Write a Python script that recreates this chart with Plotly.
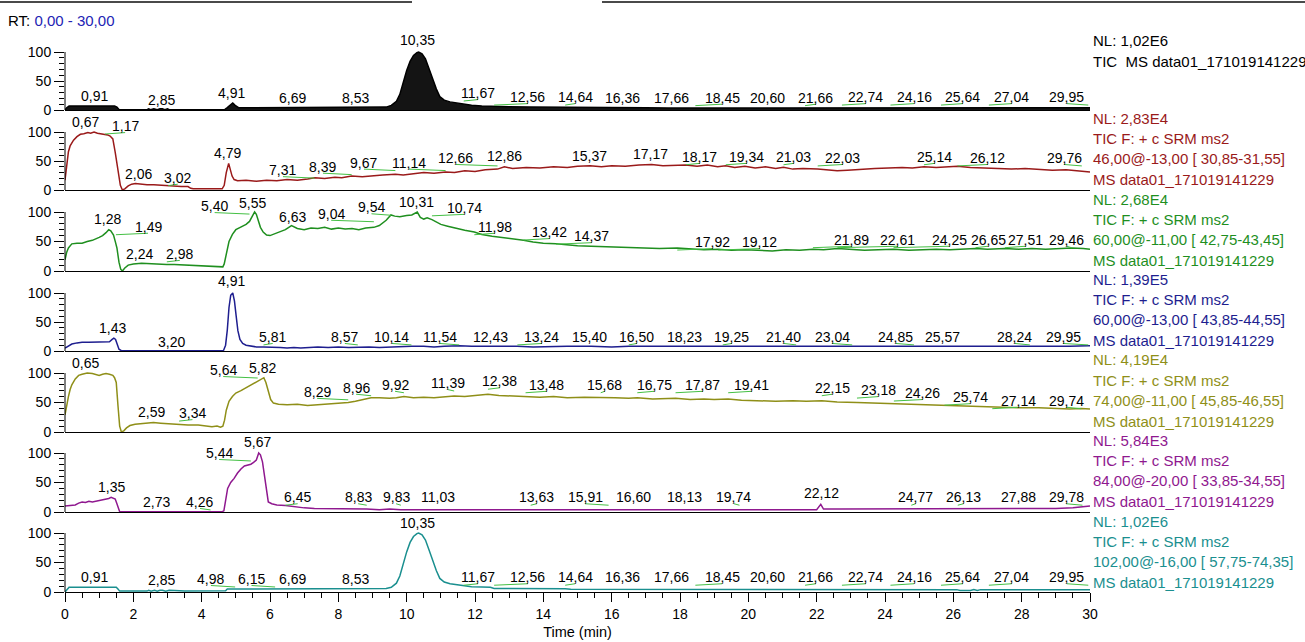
import plotly.graph_objects as go

# ---------------------------------------------------------------- data ----
# Panel 1: TIC of the whole run (relative abundance, %)
tic_time = [
    0.00, 0.05, 0.12, 0.30, 0.60, 0.91, 1.20, 1.45, 1.52, 1.58,
    1.65, 2.00, 2.40, 2.45, 2.50, 2.60, 2.70, 2.78, 2.85, 2.92,
    3.00, 3.05, 3.50, 4.00, 4.50, 4.68, 4.75, 4.82, 4.91, 4.98,
    5.08, 5.30, 5.80, 6.69, 7.30, 8.00, 8.53, 9.00, 9.40, 9.55,
    9.70, 9.80, 9.90, 10.00, 10.10, 10.20, 10.30, 10.35, 10.45, 10.55,
    10.65, 10.77, 10.87, 10.97, 11.10, 11.27, 11.50, 11.67, 11.90, 12.20,
    12.56, 13.00, 13.60, 14.20, 14.64, 15.20, 15.80, 16.36, 17.00, 17.66,
    18.45, 19.20, 20.60, 21.66, 22.74, 23.50, 24.16, 25.00, 25.64, 26.20,
    26.70, 27.04, 28.00, 29.00, 29.95, 30.00]
tic_int = [
    0, 4, 7, 7, 7, 7.5, 7, 7, 5, 1,
    0.5, 0.5, 0.5, 2, 0.5, 2, 0.5, 2, 2, 0.5,
    2, 0.5, 0.5, 0.5, 0.5, 1, 4, 8, 12, 8,
    4, 4, 4, 4.5, 4, 4, 4.5, 4, 5, 8,
    15, 27, 48, 68, 84, 94, 99, 100, 97, 88,
    72, 52, 36, 23, 17, 14, 12, 10, 8, 7,
    6, 5.5, 5, 5, 5, 4.5, 4, 4, 4, 3.5,
    3.5, 3.5, 3.5, 3.5, 3.5, 3.5, 3.5, 3.5, 3.5, 3.5,
    3.5, 3.5, 3.5, 3.5, 3.5, 4]

# Panel 2: SRM 46 -> 30.85-31.55
red_time = [
    0.00, 0.05, 0.10, 0.15, 0.25, 0.35, 0.45, 0.55, 0.67, 0.75,
    0.85, 0.95, 1.05, 1.17, 1.25, 1.32, 1.40, 1.47, 1.55, 1.62,
    1.68, 1.75, 1.85, 1.95, 2.06, 2.20, 2.40, 2.60, 2.80, 3.02,
    3.20, 3.40, 3.60, 3.68, 3.75, 4.00, 4.30, 4.60, 4.66, 4.72,
    4.79, 4.84, 4.89, 4.95, 5.05, 5.30, 5.60, 5.90, 6.20, 6.50,
    6.80, 7.10, 7.31, 7.60, 7.90, 8.10, 8.39, 8.70, 9.00, 9.30,
    9.67, 9.90, 10.20, 10.50, 10.80, 11.14, 11.40, 11.70, 12.00, 12.30,
    12.66, 12.86, 13.10, 13.50, 13.90, 14.30, 14.70, 15.00, 15.37, 15.70,
    16.00, 16.40, 16.80, 17.17, 17.50, 17.80, 18.17, 18.50, 18.80, 19.10,
    19.34, 19.60, 19.90, 20.20, 20.50, 20.80, 21.03, 21.30, 21.60, 22.03,
    22.30, 22.60, 22.90, 23.30, 23.70, 24.10, 24.50, 24.80, 25.14, 25.50,
    25.80, 26.12, 26.50, 26.90, 27.30, 27.70, 28.10, 28.50, 28.90, 29.30,
    29.76, 30.00]
red_int = [
    17, 45, 66, 76, 86, 92, 96, 97, 99, 98,
    100, 98, 97, 96, 95, 93, 88, 65, 34, 8,
    0, 2, 7, 10, 11, 10, 9, 9, 8, 8,
    7, 6, 6, 3, 2, 2, 2, 2, 8, 30,
    46, 35, 24, 18, 16, 17, 15, 17, 16, 18,
    17, 19, 21, 20, 22, 21, 24, 23, 25, 26,
    27, 26, 28, 30, 29, 31, 30, 33, 32, 35,
    36, 40, 37, 39, 38, 40, 39, 41, 42, 40,
    42, 41, 43, 44, 42, 43, 43, 41, 43, 40,
    42, 39, 41, 38, 40, 37, 39, 36, 37, 36,
    35, 33, 34, 36, 37, 38, 39, 38, 40, 39,
    40, 41, 39, 38, 37, 36, 37, 35, 34, 35,
    33, 31]

# Panel 3: SRM 60 -> 42.75-43.45
green_time = [
    0.00, 0.05, 0.10, 0.20, 0.35, 0.50, 0.65, 0.80, 1.00, 1.10,
    1.20, 1.28, 1.34, 1.42, 1.48, 1.52, 1.58, 1.63, 1.68, 1.75,
    1.85, 2.00, 2.24, 2.50, 2.75, 2.98, 3.20, 3.50, 3.80, 4.10,
    4.40, 4.62, 4.66, 4.72, 4.80, 4.90, 5.00, 5.10, 5.20, 5.30,
    5.40, 5.48, 5.55, 5.60, 5.66, 5.72, 5.80, 5.90, 6.00, 6.15,
    6.30, 6.45, 6.63, 6.80, 7.00, 7.20, 7.40, 7.60, 7.80, 8.00,
    8.20, 8.40, 8.60, 8.80, 9.04, 9.20, 9.40, 9.54, 9.65, 9.80,
    10.00, 10.15, 10.31, 10.40, 10.50, 10.60, 10.74, 10.85, 11.00, 11.20,
    11.40, 11.70, 11.98, 12.20, 12.50, 12.80, 13.10, 13.42, 13.70, 14.00,
    14.37, 14.70, 15.00, 15.40, 15.80, 16.20, 16.60, 17.00, 17.40, 17.92,
    18.30, 18.70, 19.12, 19.50, 19.90, 20.30, 20.70, 21.10, 21.50, 21.89,
    22.20, 22.61, 23.00, 23.40, 23.80, 24.25, 24.70, 25.10, 25.50, 25.90,
    26.30, 26.65, 27.00, 27.51, 27.90, 28.30, 28.70, 29.10, 29.46, 29.80,
    30.00]
green_int = [
    19, 32, 39, 46, 47, 47, 50, 52, 57, 60,
    65, 70, 68, 61, 48, 39, 15, 3, 0, 5,
    10, 12, 13, 12, 12, 11, 11, 10, 9, 9,
    8, 7, 12, 30, 50, 62, 70, 73, 76, 79,
    84, 92, 100, 96, 86, 74, 66, 61, 60, 63,
    66, 70, 77, 72, 70, 73, 72, 74, 71, 73,
    71, 72, 70, 73, 74, 77, 86, 95, 93, 92,
    94, 95, 100, 91, 88, 90, 87, 83, 79, 76,
    73, 69, 66, 62, 59, 57, 55, 52, 49, 47,
    46, 44, 43, 42, 41, 41, 40, 39, 38, 39,
    37, 36, 37, 35, 36, 35, 34, 36, 35, 37,
    36, 38, 36, 35, 36, 37, 35, 36, 37, 36,
    37, 38, 37, 38, 37, 38, 37, 38, 39, 38,
    37]

# Panel 4: SRM 60 -> 43.85-44.55
navy_time = [
    0.00, 0.10, 0.20, 0.35, 0.50, 0.70, 0.90, 1.10, 1.30, 1.38,
    1.43, 1.48, 1.53, 1.58, 1.65, 2.00, 2.50, 3.00, 3.20, 3.60,
    4.00, 4.40, 4.64, 4.70, 4.75, 4.80, 4.85, 4.91, 4.96, 5.01,
    5.06, 5.12, 5.20, 5.30, 5.45, 5.60, 5.81, 6.10, 6.30, 6.50,
    6.70, 6.90, 7.10, 7.40, 7.70, 8.00, 8.30, 8.57, 8.90, 9.20,
    9.50, 9.80, 10.14, 10.50, 10.80, 11.10, 11.54, 11.90, 12.20, 12.43,
    12.80, 13.24, 13.70, 14.20, 14.70, 15.40, 16.00, 16.50, 17.20, 17.80,
    18.23, 18.80, 19.25, 19.80, 20.40, 21.00, 21.40, 22.00, 22.50, 23.04,
    23.60, 24.20, 24.85, 25.20, 25.57, 26.10, 26.70, 27.30, 27.80, 28.24,
    28.80, 29.40, 29.95, 30.00]
navy_int = [
    5, 9, 12, 14, 15, 15, 15, 15, 16, 20,
    22, 20, 10, 3, 0.5, 0.5, 0.8, 0.5, 0.8, 0.5,
    0.5, 0.5, 1, 10, 36, 75, 96, 100, 86, 60,
    35, 20, 13, 10, 8, 7, 7, 7, 6, 5,
    6, 5, 6, 7, 6, 7, 6, 7, 7, 6,
    7, 7, 8, 8, 7, 8, 9, 8, 8, 9,
    8, 8, 7, 8, 8, 8, 7, 8, 8, 7,
    8, 8, 8, 7, 8, 8, 8, 7, 8, 8,
    8, 8, 8, 8, 8, 7, 8, 8, 8, 8,
    8, 8, 9, 9]

# Panel 5: SRM 74 -> 45.85-46.55
olive_time = [
    0.00, 0.05, 0.10, 0.15, 0.20, 0.30, 0.40, 0.50, 0.65, 0.80,
    0.90, 1.00, 1.10, 1.20, 1.30, 1.40, 1.45, 1.50, 1.55, 1.60,
    1.65, 1.72, 1.80, 1.90, 2.05, 2.30, 2.59, 2.80, 3.00, 3.34,
    3.60, 3.90, 4.10, 4.30, 4.45, 4.55, 4.62, 4.67, 4.72, 4.80,
    4.90, 5.00, 5.15, 5.30, 5.45, 5.64, 5.72, 5.82, 5.88, 5.95,
    6.02, 6.10, 6.25, 6.50, 6.80, 7.10, 7.38, 7.60, 7.90, 8.10,
    8.29, 8.50, 8.70, 8.96, 9.20, 9.50, 9.70, 9.92, 10.20, 10.50,
    10.80, 11.10, 11.39, 11.70, 12.00, 12.38, 12.70, 13.00, 13.48, 13.90,
    14.30, 14.70, 15.20, 15.68, 16.10, 16.50, 16.75, 17.20, 17.50, 17.87,
    18.30, 18.70, 19.00, 19.41, 19.80, 20.30, 20.80, 21.30, 21.70, 22.15,
    22.60, 23.18, 23.70, 24.26, 24.70, 25.20, 25.74, 26.20, 26.60, 27.14,
    27.60, 28.00, 28.50, 29.00, 29.40, 29.74, 30.00]
olive_int = [
    29, 48, 60, 72, 80, 90, 96, 98, 100, 99,
    97, 96, 98, 99, 98, 96, 92, 84, 45, 10,
    0, 2, 7, 11, 13, 14, 16, 15, 14, 13,
    12, 12, 11, 9, 10, 8, 10, 20, 37, 52,
    60, 66, 70, 75, 79, 86, 88, 92, 84, 70,
    55, 49, 47, 46, 47, 45, 46, 47, 48, 49,
    50, 52, 55, 58, 58, 57, 58, 60, 58, 59,
    58, 59, 61, 60, 62, 64, 62, 61, 60, 59,
    60, 58, 59, 59, 58, 57, 58, 56, 57, 57,
    55, 56, 55, 56, 54, 53, 52, 53, 52, 53,
    51, 50, 49, 49, 47, 46, 46, 45, 44, 43,
    42, 41, 41, 40, 39, 40, 39]

# Panel 6: SRM 84 -> 33.85-34.55
purple_time = [
    0.00, 0.10, 0.20, 0.30, 0.40, 0.50, 0.60, 0.70, 0.80, 0.90,
    1.00, 1.10, 1.20, 1.28, 1.35, 1.42, 1.47, 1.52, 1.56, 1.60,
    2.00, 2.73, 3.50, 4.26, 4.60, 4.65, 4.70, 4.76, 4.85, 4.95,
    5.05, 5.15, 5.25, 5.35, 5.44, 5.52, 5.60, 5.67, 5.72, 5.78,
    5.84, 5.90, 5.95, 6.05, 6.20, 6.45, 6.70, 7.00, 7.30, 7.70,
    8.00, 8.40, 8.83, 9.20, 9.50, 9.83, 10.20, 10.60, 11.03, 11.50,
    12.00, 12.60, 13.10, 13.63, 14.20, 14.80, 15.40, 15.91, 16.60, 17.20,
    17.70, 18.13, 18.70, 19.20, 19.74, 20.30, 20.90, 21.50, 22.00, 22.12,
    22.20, 22.70, 23.30, 23.90, 24.40, 24.77, 25.30, 25.70, 26.13, 26.60,
    27.20, 27.88, 28.40, 29.00, 29.50, 29.78, 30.00]
purple_int = [
    10, 11, 12, 12, 15, 17, 16, 18, 17, 18,
    19, 21, 22, 23, 25, 24, 22, 14, 5, 0.5,
    0.5, 0.5, 0.5, 0.5, 0.5, 2, 20, 40, 50, 57,
    66, 73, 78, 79, 81, 84, 88, 100, 97, 85,
    62, 35, 17, 14, 12, 11, 9, 7, 6, 6,
    5, 5, 5, 4, 5, 4, 4, 5, 4, 4,
    4, 4, 5, 4, 4, 4, 5, 4, 4, 4,
    4, 4, 5, 4, 4, 4, 5, 4, 4, 13,
    5, 5, 5, 5, 5, 6, 5, 6, 6, 6,
    5, 6, 6, 6, 7, 8, 10]

# Panel 7: SRM 102 -> 57.75-74.35
teal_time = [
    0.00, 0.05, 0.12, 0.30, 0.60, 0.91, 1.20, 1.50, 1.55, 1.60,
    1.70, 2.00, 2.40, 2.45, 2.52, 2.62, 2.70, 2.78, 2.85, 2.95,
    3.05, 3.50, 4.00, 4.50, 4.70, 4.75, 4.98, 5.50, 6.15, 6.69,
    7.30, 8.00, 8.53, 9.00, 9.40, 9.55, 9.70, 9.80, 9.90, 10.00,
    10.10, 10.20, 10.30, 10.35, 10.45, 10.55, 10.65, 10.77, 10.87, 10.97,
    11.10, 11.27, 11.50, 11.67, 11.90, 12.20, 12.45, 12.56, 13.00, 13.60,
    14.20, 14.64, 14.80, 15.20, 15.80, 16.36, 17.00, 17.66, 18.45, 19.20,
    20.60, 21.66, 22.74, 23.50, 24.16, 25.00, 25.64, 26.10, 26.20, 26.50,
    26.60, 26.70, 26.80, 27.04, 28.00, 29.00, 29.95, 30.00]
teal_int = [
    0, 4, 8, 8, 8, 8.5, 8, 8, 5, 1.5,
    1.5, 1.5, 1.5, 3, 1.5, 3, 1.5, 3, 3, 1.5,
    3, 1.5, 1.5, 1.5, 2, 5, 5, 5.5, 5.5, 5.5,
    5.5, 5.5, 5.5, 5.5, 6, 8, 15, 27, 48, 68,
    84, 94, 99, 100, 97, 88, 72, 52, 36, 23,
    17, 14, 12, 10, 9, 8.5, 8, 6, 6, 5.5,
    5.5, 5.5, 4.5, 4.5, 4, 4, 4, 4, 4, 4,
    4, 4, 4, 4, 4, 4, 4, 4, 2.5, 2.5,
    4, 2.5, 4, 4, 4, 4, 4, 4]

# Peak annotations: retention time, label centre (min), label height (%)
tic_peak_rt = [0.91, 2.85, 4.91, 6.69, 8.53, 10.35, 11.67, 12.56, 14.64, 16.36,
               17.66, 18.45, 20.60, 21.66, 22.74, 24.16, 25.64, 27.04, 29.95]
tic_label_x = [0.85, 2.81, 4.86, 6.65, 8.49, 10.33, 12.09, 13.55, 14.93, 16.33,
               17.76, 19.23, 20.57, 21.98, 23.44, 24.85, 26.28, 27.71, 29.32]
tic_label_y = [24, 17, 29, 21, 21, 121, 29, 22, 22, 21,
               21, 21, 21, 21, 22, 22, 22, 22, 22]

red_peak_rt = [0.67, 1.17, 2.06, 3.02, 4.79, 7.31, 8.39, 9.67, 11.14, 12.66,
               12.86, 15.37, 17.17, 18.17, 19.34, 21.03, 22.03, 25.14, 26.12, 29.76]
red_label_x = [0.61, 1.76, 2.14, 3.30, 4.77, 6.38, 7.55, 8.75, 10.07, 11.44,
               12.85, 15.36, 17.15, 18.58, 19.96, 21.33, 22.77, 25.46, 27.01, 29.24]
red_label_y = [117, 110, 28, 21, 64, 34, 40, 47, 47, 55,
               59, 59, 62, 57, 57, 57, 55, 57, 55, 55]

green_peak_rt = [1.28, 1.49, 2.24, 2.98, 5.40, 5.55, 6.63, 9.04, 9.54, 10.31,
                 10.74, 11.98, 13.42, 14.37, 17.92, 19.12, 21.89, 22.61, 24.25, 26.65,
                 27.51, 29.46]
green_label_x = [1.23, 2.43, 2.19, 3.36, 4.38, 5.49, 6.67, 7.79, 8.97, 10.28,
                 11.68, 12.58, 14.19, 15.42, 18.96, 20.34, 23.03, 24.38, 25.90, 27.02,
                 28.12, 29.32]
green_label_y = [88, 75, 29, 29, 110, 115, 92, 97, 108, 117,
                 107, 75, 66, 59, 49, 49, 53, 53, 53, 53,
                 53, 53]

navy_peak_rt = [1.43, 3.20, 4.91, 5.81, 8.57, 10.14, 11.54, 12.43, 13.24, 15.40,
                16.50, 18.23, 19.25, 21.40, 23.04, 24.85, 25.57, 28.24, 29.95]
navy_label_x = [1.38, 3.13, 4.86, 6.08, 8.19, 9.57, 10.97, 12.44, 13.96, 15.36,
                16.74, 18.14, 19.52, 21.04, 22.45, 24.32, 25.67, 27.80, 29.21]
navy_label_y = [40, 16, 121, 24, 24, 24, 24, 24, 24, 24,
                24, 24, 24, 24, 24, 24, 24, 24, 24]

olive_peak_rt = [0.65, 2.59, 3.34, 5.64, 5.82, 8.29, 8.96, 9.92, 11.39, 12.38,
                 13.48, 15.68, 16.75, 17.87, 19.41, 22.15, 23.18, 24.26, 25.74, 27.14,
                 29.74]
olive_label_x = [0.61, 2.54, 3.73, 4.63, 5.79, 7.38, 8.52, 9.66, 11.20, 12.73,
                 14.10, 15.80, 17.24, 18.67, 20.10, 22.45, 23.80, 25.10, 26.50, 27.90,
                 29.30]
olive_label_y = [117, 34, 32, 105, 108, 68, 75, 80, 83, 86,
                 80, 80, 80, 80, 80, 75, 71, 66, 59, 53,
                 53]

purple_peak_rt = [1.35, 2.73, 4.26, 5.44, 5.67, 6.45, 8.83, 9.83, 11.03, 13.63,
                  15.91, 16.60, 18.13, 19.74, 22.12, 24.77, 26.13, 27.88, 29.78]
purple_label_x = [1.35, 2.69, 3.95, 4.51, 5.64, 6.81, 8.58, 9.69, 10.92, 13.81,
                  15.22, 16.65, 18.14, 19.58, 22.15, 24.90, 26.30, 27.90, 29.30]
purple_label_y = [42, 17, 17, 100, 119, 25, 25, 25, 25, 25,
                  25, 25, 25, 25, 32, 25, 25, 25, 25]

teal_peak_rt = [0.91, 2.85, 4.98, 6.15, 6.69, 8.53, 10.35, 11.67, 12.56, 14.64,
                16.36, 17.66, 18.45, 20.60, 21.66, 22.74, 24.16, 25.64, 27.04, 29.95]
teal_label_x = [0.85, 2.81, 4.27, 5.46, 6.65, 8.49, 10.33, 12.09, 13.55, 14.93,
                16.33, 17.76, 19.23, 20.57, 21.98, 23.44, 24.85, 26.28, 27.71, 29.32]
teal_label_y = [25, 20, 22, 22, 22, 22, 117, 25, 25, 25,
                25, 25, 25, 25, 25, 25, 25, 25, 25, 25]

# Right-hand trace headers
nl_values = ["1,02E6", "2,83E4", "2,68E4", "1,39E5", "4,19E4", "5,84E3", "1,02E6"]
srm_filters = [None,
               "46,00@-13,00 [ 30,85-31,55]",
               "60,00@-11,00 [ 42,75-43,45]",
               "60,00@-13,00 [ 43,85-44,55]",
               "74,00@-11,00 [ 45,85-46,55]",
               "84,00@-20,00 [ 33,85-34,55]",
               "102,00@-16,00 [ 57,75-74,35]"]
raw_file = "data01_171019141229"

# ------------------------------------------------------------- layout ----
W, H = 1305, 642
FONT = "Liberation Sans, Arial, sans-serif"
X_LEFT, X_RIGHT = 65, 1090                       # plot columns (px)
Y_TOP = [52, 132, 212, 293, 373, 453, 533]       # rows of the 100 % tick
Y_ZERO = [110, 190, 271, 351, 432, 512, 592]     # rows of the 0 % baseline
Y_MAX = 130                                      # head-room for peak labels
TEXT_TOP = [41, 118, 199, 279, 360, 440, 521]    # first header line per panel
LINE_STEP = 20.4

colors = ["#000000", "#9a1a1a", "#1f8f1f", "#1e1e8f", "#8f8f18", "#8f188f", "#1a8f8f"]
leader_color = "#44c044"

panels = [
    (tic_time, tic_int, tic_peak_rt, tic_label_x, tic_label_y),
    (red_time, red_int, red_peak_rt, red_label_x, red_label_y),
    (green_time, green_int, green_peak_rt, green_label_x, green_label_y),
    (navy_time, navy_int, navy_peak_rt, navy_label_x, navy_label_y),
    (olive_time, olive_int, olive_peak_rt, olive_label_x, olive_label_y),
    (purple_time, purple_int, purple_peak_rt, purple_label_x, purple_label_y),
    (teal_time, teal_int, teal_peak_rt, teal_label_x, teal_label_y),
]


def fmt(v):
    return f"{v:.2f}".replace(".", ",")


fig = go.Figure()
layout = dict(
    width=W, height=H, margin=dict(l=0, r=0, t=0, b=0, autoexpand=False),
    paper_bgcolor="white", plot_bgcolor="white",
    showlegend=False, font=dict(family=FONT, size=14, color="black"),
)
annotations, shapes = [], []
x_dom = [X_LEFT / W, X_RIGHT / W]

for k, (t, v, rts, lxs, lys) in enumerate(panels):
    n = k + 1
    sfx = "" if n == 1 else str(n)
    xref, yref = "x" + sfx, "y" + sfx
    col = colors[k]

    trace = dict(x=t, y=v, mode="lines", xaxis=xref, yaxis=yref,
                 line=dict(color=col, width=1.5), hoverinfo="skip")
    if n == 1:
        trace.update(fill="tozeroy", fillcolor="rgba(0,0,0,0.92)")
    fig.add_trace(go.Scatter(**trace))

    bottom = Y_ZERO[k]
    top = Y_ZERO[k] - (Y_ZERO[k] - Y_TOP[k]) * Y_MAX / 100
    y_dom = [1 - bottom / H, 1 - top / H]

    last = n == len(panels)
    xa = dict(domain=x_dom, range=[0, 30], anchor=yref, showgrid=False,
              zeroline=False, showline=True, linecolor="black", linewidth=1,
              automargin=False)
    if last:
        xa.update(ticks="outside", tickmode="linear", tick0=0, dtick=2,
                  ticklen=9, tickwidth=1, tickcolor="black",
                  minor=dict(ticks="outside", dtick=0.5, tick0=0, ticklen=5,
                             tickwidth=1, tickcolor="black"),
                  tickfont=dict(size=14),
                  title=dict(text="Time (min)", font=dict(size=14.5), standoff=6))
    else:
        xa.update(showticklabels=False, ticks="")
    if n > 1:
        xa["matches"] = "x"
    ya = dict(domain=y_dom, range=[0, Y_MAX], anchor=xref, showgrid=False,
              zeroline=False, showline=False, tickmode="array", automargin=False,
              tickvals=[0, 50, 100], ticks="outside", ticklen=10, tickwidth=1,
              tickcolor="black", tickfont=dict(size=14),
              minor=dict(tickmode="array", tickvals=list(range(0, 101, 10)),
                         ticks="outside", ticklen=5, tickwidth=1, tickcolor="black"))
    layout["xaxis" + sfx] = xa
    layout["yaxis" + sfx] = ya

    # vertical intensity axis, 0 .. 100 %
    shapes.append(dict(type="line", xref="paper", yref=yref, x0=x_dom[0], x1=x_dom[0],
                       y0=0, y1=100, line=dict(color="black", width=1)))

    # peak labels with leader lines
    for rt, lx, ly in zip(rts, lxs, lys):
        annotations.append(dict(x=lx, y=ly, xref=xref, yref=yref, text=fmt(rt),
                                showarrow=False, xanchor="center", yanchor="middle",
                                font=dict(size=14, color="black")))
        if abs(lx - rt) > 0.12:
            shapes.append(dict(type="line", xref=xref, yref=yref,
                               x0=rt, y0=ly - 13.5, x1=lx, y1=ly - 11,
                               line=dict(color=leader_color, width=1)))

    # trace header on the right
    if n == 1:
        lines = [f"NL: {nl_values[k]}", f"TIC&nbsp; MS {raw_file}"]
    else:
        lines = [f"NL: {nl_values[k]}", "TIC F: + c SRM ms2", srm_filters[k],
                 f"MS {raw_file}"]
    for i, txt in enumerate(lines):
        annotations.append(dict(x=(X_RIGHT + 1) / W, y=1 - (TEXT_TOP[k] + i * LINE_STEP) / H,
                                xref="paper", yref="paper", text=txt, showarrow=False,
                                xanchor="left", yanchor="middle",
                                font=dict(size=15, color=col)))

# range header and frame rules
annotations.append(dict(x=6 / W, y=1 - 20 / H, xref="paper", yref="paper",
                        text="RT: <span style='color:#2323b4'>0,00 - 30,00</span>",
                        showarrow=False, xanchor="left", yanchor="middle",
                        font=dict(size=15, color="black")))
for x0, x1 in [(0, 412), (602, W)]:
    shapes.append(dict(type="line", xref="paper", yref="paper", x0=x0 / W, x1=x1 / W,
                       y0=1 - 2 / H, y1=1 - 2 / H, line=dict(color="#4a4a4a", width=2)))

layout["annotations"] = annotations
layout["shapes"] = shapes
fig.update_layout(**layout)
fig.write_html("out.html")
